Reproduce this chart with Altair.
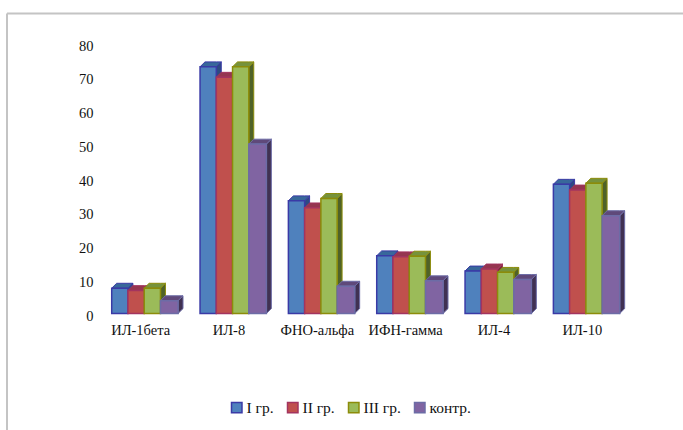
import altair as alt
import pandas as pd

# Cytokine levels by patient group
categories = ["ИЛ-1бета", "ИЛ-8", "ФНО-альфа", "ИФН-гамма", "ИЛ-4", "ИЛ-10"]
series_names = ["I гр.", "II гр.", "III гр.", "контр."]
series_values = {
    "I гр.": [7.5, 73.1, 33.4, 17.1, 12.6, 38.3],
    "II гр.": [6.8, 70.0, 31.3, 16.8, 13.2, 36.6],
    "III гр.": [7.5, 73.1, 34.1, 17.0, 12.2, 38.6],
    "контр.": [3.8, 50.2, 8.1, 9.7, 10.1, 29.0],
}

front_fill = ["#4f81bd", "#c0504d", "#9bbb59", "#8064a2"]
edge = ["#3a3aa6", "#a3345f", "#8c8c0a", "#6c6ca6"]
top_fill = ["#38689a", "#953650", "#76923c", "#5f497a"]
side_fill = ["#2d4a82", "#7a2b3f", "#4f6228", "#403152"]

FONT = "Liberation Serif"

# Bar geometry in category units; depth gives the extruded look
BAR_START = 0.11
BAR_WIDTH = 0.184
DEPTH_X = 0.056
DEPTH_Y = 1.45

front_rows, top_rows, side_rows = [], [], []
for s, name in enumerate(series_names):
    for c, value in enumerate(series_values[name]):
        x0 = c + BAR_START + s * BAR_WIDTH
        x1 = x0 + BAR_WIDTH
        if s == 3:
            x1 += 0.015
        front_rows.append(dict(series=name, cat=c, x0=x0, x1=x1, v=value))
        # top face: parallelogram swept along x
        for x, hi, lo in [
            (x0, value, value),
            (x0 + DEPTH_X, value + DEPTH_Y, value),
            (x1, value + DEPTH_Y, value),
            (x1 + DEPTH_X, value + DEPTH_Y, value + DEPTH_Y),
        ]:
            top_rows.append(dict(series=name, cat=c, x=x, hi=hi, lo=lo))
        # side face: parallelogram to the right of the front
        for x, hi, lo in [
            (x1, value, 0),
            (x1 + DEPTH_X, value + DEPTH_Y, DEPTH_Y),
        ]:
            side_rows.append(dict(series=name, cat=c, x=x, hi=hi, lo=lo))

front = pd.DataFrame(front_rows)
top = pd.DataFrame(top_rows)
side = pd.DataFrame(side_rows)

x_scale = alt.Scale(domain=[0, 6], nice=False, zero=False)
y_scale = alt.Scale(domain=[0, 80], nice=False)
label_js = "[" + ",".join(f'"{c}"' for c in categories) + "]"

x_axis = alt.Axis(
    values=[0.5, 1.5, 2.5, 3.5, 4.5, 5.5],
    labelExpr=f"{label_js}[floor(datum.value)]",
    title=None, domain=False, ticks=False, grid=False,
    labelFont=FONT, labelFontSize=14.5, labelColor="#111111",
    labelPadding=10, labelAngle=0, labelOffset=-6,
)
y_axis = alt.Axis(
    values=list(range(0, 90, 10)),
    title=None, domain=False, ticks=False, grid=False,
    labelFont=FONT, labelFontSize=14.5, labelColor="#111111",
    labelPadding=9, labelOffset=2.5,
)

layers = []
for s, name in enumerate(series_names):
    side_s = side[side.series == name]
    top_s = top[top.series == name]
    front_s = front[front.series == name]
    for faces, fill in [(side_s, side_fill[s]), (top_s, top_fill[s])]:
        layers.append(
            alt.Chart(faces).mark_area(
                orient="vertical", fill=fill, stroke=edge[s], strokeWidth=1
            ).encode(
                x=alt.X("x:Q", scale=x_scale, axis=x_axis),
                y=alt.Y("hi:Q", scale=y_scale, axis=y_axis, stack=None),
                y2="lo:Q", detail="cat:N",
            )
        )
    layers.append(
        alt.Chart(front_s).mark_bar(strokeWidth=1.5).encode(
            x=alt.X("x0:Q", scale=x_scale, axis=x_axis),
            x2="x1:Q",
            y=alt.Y("v:Q", scale=y_scale, axis=y_axis, stack=None),
            y2=alt.datum(0),
            color=alt.Color(
                "series:N",
                scale=alt.Scale(domain=series_names, range=front_fill),
                legend=alt.Legend(
                    title=None, orient="none", legendX=127, legendY=356,
                    direction="horizontal", columns=4, columnPadding=10,
                    symbolType="square", symbolSize=110, symbolStrokeWidth=1.5,
                    symbolOpacity=1, labelFont=FONT, labelFontSize=15.5,
                    labelColor="#111111", labelOffset=2,
                ),
            ),
            stroke=alt.Stroke(
                "series:N",
                scale=alt.Scale(domain=series_names, range=edge),
            ),
        )
    )

# Frame around the chart: top and left edges only
frame_top = alt.Chart(pd.DataFrame({"a": [0]})).mark_rule(
    color="#c4c4c4", strokeWidth=2
).encode(x=alt.value(-95), x2=alt.value(590), y=alt.value(-30))
frame_left = alt.Chart(pd.DataFrame({"a": [0]})).mark_rule(
    color="#c4c4c4", strokeWidth=2
).encode(x=alt.value(-95), y=alt.value(-30), y2=alt.value(390))

chart = (
    alt.layer(frame_top, frame_left, *layers)
    .properties(
        width=530, height=270,
        padding={"left": 102, "top": 43.5, "right": 51, "bottom": 116.5},
        autosize=alt.AutoSizeParams(type="none"),
        background="white",
    )
    .configure_view(stroke=None)
)

chart.save("out.html", embed_options={"renderer": "svg", "actions": False})
